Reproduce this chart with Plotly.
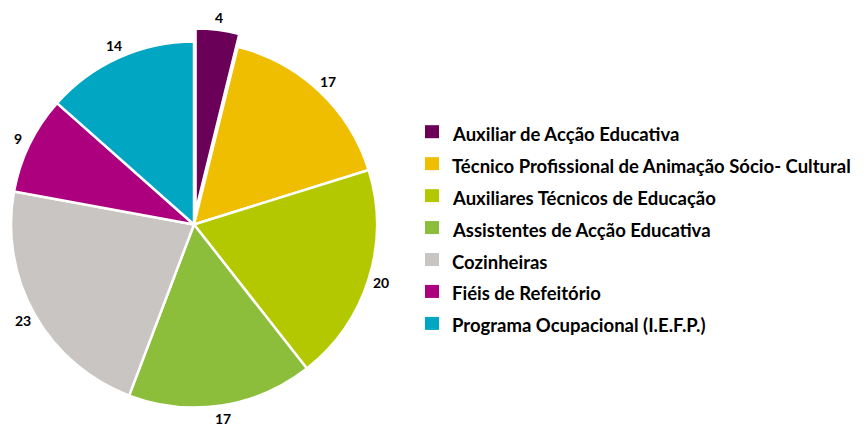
import math
import plotly.graph_objects as go

categories = [
    "Auxiliar de Acção Educativa",
    "Técnico Profissional de Animação Sócio- Cultural",
    "Auxiliares Técnicos de Educação",
    "Assistentes de Acção Educativa",
    "Cozinheiras",
    "Fiéis de Refeitório",
    "Programa Ocupacional (I.E.F.P.)",
]
values = [4, 17, 20, 17, 23, 9, 14]
colors = ["#6A0058", "#F0BE00", "#B4C800", "#8CBE3C", "#C9C5C2", "#AD007F", "#00A6C2"]
pulled = [True, False, False, False, False, False, False]

W, H = 866, 425
OFF = 8            # page body margin in the screenshot
FONT = "Lato"

# pie geometry (display pixels)
CX, CY, R = 194, 224.5, 183
PULL_PX = 13
LABEL_R = R + 13


def dom(cx, cy, r):
    cx, cy = cx - OFF, cy - OFF
    return dict(x=[(cx - r) / W, (cx + r) / W], y=[1 - (cy + r) / H, 1 - (cy - r) / H])


total = sum(values)
mids = []
acc = 0
for v in values:
    mids.append((acc + v / 2) / total * 2 * math.pi)
    acc += v

line_w = 2.5
fig = go.Figure()
# main (not pulled) slices
fig.add_trace(go.Pie(
    labels=categories, values=values, sort=False, direction="clockwise", rotation=0,
    marker=dict(colors=[("rgba(0,0,0,0)" if p else c) for c, p in zip(colors, pulled)],
                line=dict(color="white", width=[0 if p else line_w for p in pulled])),
    textinfo="none", showlegend=False, hoverinfo="label+value",
    domain=dom(CX, CY, R),
))
# pulled slice(s): same pie shifted along the slice's mid angle
for i, p in enumerate(pulled):
    if not p:
        continue
    a = mids[i]
    dx, dy = PULL_PX * math.sin(a), -PULL_PX * math.cos(a)
    fig.add_trace(go.Pie(
        labels=categories, values=values, sort=False, direction="clockwise", rotation=0,
        marker=dict(colors=[(c if j == i else "rgba(0,0,0,0)") for j, c in enumerate(colors)],
                    line=dict(color="white", width=[line_w if j == i else 0 for j in range(len(values))])),
        textinfo="none", showlegend=False, hoverinfo="label+value",
        domain=dom(CX + dx, CY + dy, R),
    ))

annotations = []
# value labels outside the slices
for i, v in enumerate(values):
    rr = LABEL_R + (PULL_PX if pulled[i] else 0)
    x = CX + rr * math.sin(mids[i]) - OFF
    y = CY - rr * math.cos(mids[i]) - OFF
    annotations.append(dict(xref="paper", yref="paper", x=x / W, y=1 - y / H,
                            xanchor="center", yanchor="middle", showarrow=False,
                            text=str(v),
                            font=dict(family=FONT, size=14, color="black", weight="bold")))

# legend (manual to match spacing)
x_sq0, x_sq1, x_txt = 425, 439, 450
y0, dy_row = 131.7, 31.95
shapes = []
for i, (cat, col) in enumerate(zip(categories, colors)):
    yc = y0 + i * dy_row
    shapes.append(dict(type="rect", xref="paper", yref="paper",
                       x0=(x_sq0 - OFF) / W, x1=(x_sq1 - OFF) / W,
                       y0=1 - (yc + 6.5 - OFF) / H, y1=1 - (yc - 6.5 - OFF) / H,
                       fillcolor=col, line=dict(width=0)))
    annotations.append(dict(xref="paper", yref="paper", x=(x_txt - OFF) / W, y=1 - (yc + 2 - OFF) / H,
                            xanchor="left", yanchor="middle", showarrow=False,
                            text=cat,
                            font=dict(family=FONT, size=18.5, color="black", weight="bold")))

fig.update_layout(
    width=W, height=H,
    margin=dict(l=0, r=0, t=0, b=0),
    paper_bgcolor="white", plot_bgcolor="white",
    shapes=shapes, annotations=annotations,
)

fig.write_html("out.html")
